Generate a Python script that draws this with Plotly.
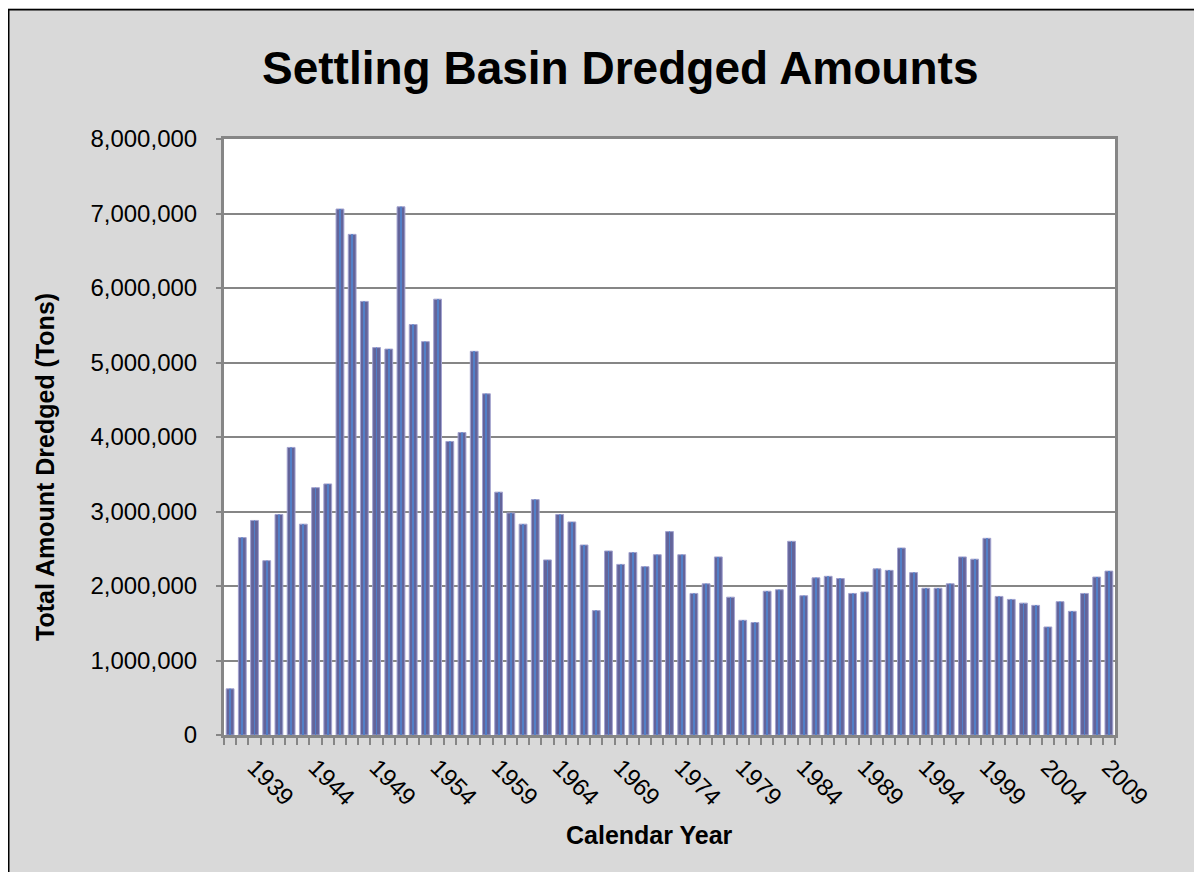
import plotly.graph_objects as go

years = list(range(1937, 2010))
tons = [
    620000, 2650000, 2880000, 2340000, 2960000, 3860000, 2830000, 3320000, 3370000, 7060000,
    6720000, 5820000, 5200000, 5180000, 7090000, 5510000, 5280000, 5850000, 3940000, 4060000,
    5150000, 4580000, 3260000, 2980000, 2830000, 3160000, 2350000, 2960000, 2860000, 2550000,
    1670000, 2470000, 2290000, 2450000, 2260000, 2420000, 2730000, 2420000, 1900000, 2030000,
    2390000, 1850000, 1540000, 1510000, 1930000, 1950000, 2600000, 1870000, 2110000, 2130000,
    2100000, 1900000, 1920000, 2230000, 2210000, 2510000, 2180000, 1970000, 1970000, 2030000,
    2390000, 2360000, 2640000, 1860000, 1820000, 1770000, 1740000, 1450000, 1790000, 1660000,
    1900000, 2120000, 2200000,
]
label_years = list(range(1939, 2010, 5))
y_ticks = list(range(0, 8000001, 1000000))

title = "Settling Basin Dredged Amounts"
y_title = "Total Amount Dredged (Tons)"
x_title = "Calendar Year"

FONT = "Liberation Sans, Arial, sans-serif"
GRAY = "#868686"

OFF = 8  # page body margin
PAGE_W, PAGE_H = 1202, 872
W, H = PAGE_W - OFF, PAGE_H - OFF
# plot area in page pixels
L, R, T, B = 224, 1115, 139, 735
pw, ph = R - L, B - T

def px_x(p):
    return (p - L) / pw

def px_y(p):
    return (B - p) / ph

fig = go.Figure()
fig.add_trace(go.Bar(
    x=years, y=tons, width=0.64,
    marker=dict(color="#63649A", line=dict(color="#A3A3CF", width=1)),
    hoverinfo="x+y",
))
fig.add_trace(go.Bar(
    x=years, y=tons, width=0.07,
    marker=dict(color="#5280C8", line=dict(width=0)),
    hoverinfo="skip",
))

fig.update_layout(
    width=W, height=H,
    margin=dict(l=L - OFF, r=PAGE_W - R, t=T - OFF, b=PAGE_H - B, pad=0),
    paper_bgcolor="#D9D9D9",
    plot_bgcolor="white",
    barmode="overlay",
    showlegend=False,
    font=dict(family=FONT, color="black", size=24),
)

fig.update_xaxes(
    range=[1936.5, 2009.5],
    tickmode="array", tickvals=label_years, ticktext=[str(y) for y in label_years],
    tickangle=45, ticks="", ticklabelstandoff=6,
    tickfont=dict(size=24, family=FONT),
    showgrid=False, zeroline=False,
    showline=True, linecolor=GRAY, linewidth=3, mirror=True,
    minor=dict(tickmode="array", tickvals=[y - 0.5 for y in years] + [years[-1] + 0.5],
               ticks="outside", ticklen=7, tickcolor=GRAY, tickwidth=1.5, showgrid=False),
)
fig.update_yaxes(
    range=[0, 8000000],
    tickmode="array", tickvals=y_ticks, tickformat=",d",
    ticks="outside", ticklen=5, tickcolor=GRAY, tickwidth=1.5,
    ticklabelstandoff=14,
    tickfont=dict(size=24, family=FONT),
    showgrid=True, gridcolor=GRAY, gridwidth=1.5,
    zeroline=False,
    showline=True, linecolor=GRAY, linewidth=3, mirror=True,
)

# black frame (top and left edges visible)
fig.add_shape(type="line", xref="paper", yref="paper",
              x0=px_x(8.5), x1=px_x(8.5), y0=px_y(PAGE_H + 20), y1=px_y(9),
              line=dict(color="black", width=2), layer="above")
fig.add_shape(type="line", xref="paper", yref="paper",
              x0=px_x(8), x1=px_x(PAGE_W + 20), y0=px_y(9.5), y1=px_y(9.5),
              line=dict(color="black", width=2), layer="above")
fig.add_shape(type="rect", xref="paper", yref="paper",
              x0=px_x(0), x1=px_x(PAGE_W + 20), y0=px_y(8.5), y1=px_y(0),
              fillcolor="white", line=dict(width=0), layer="above")

fig.add_annotation(text="<b>" + title + "</b>", xref="paper", yref="paper",
                   x=px_x(619.5), y=px_y(68), xanchor="center", yanchor="middle",
                   showarrow=False, font=dict(size=46, family=FONT, color="black"))
fig.add_annotation(text="<b>" + y_title + "</b>", xref="paper", yref="paper",
                   x=px_x(45), y=px_y(467), xanchor="center", yanchor="middle",
                   textangle=-90, showarrow=False,
                   font=dict(size=25, family=FONT, color="black"))
fig.add_annotation(text="<b>" + x_title + "</b>", xref="paper", yref="paper",
                   x=px_x(649), y=px_y(835), xanchor="center", yanchor="middle",
                   showarrow=False, font=dict(size=25, family=FONT, color="black"))

fig.write_html("out.html")
